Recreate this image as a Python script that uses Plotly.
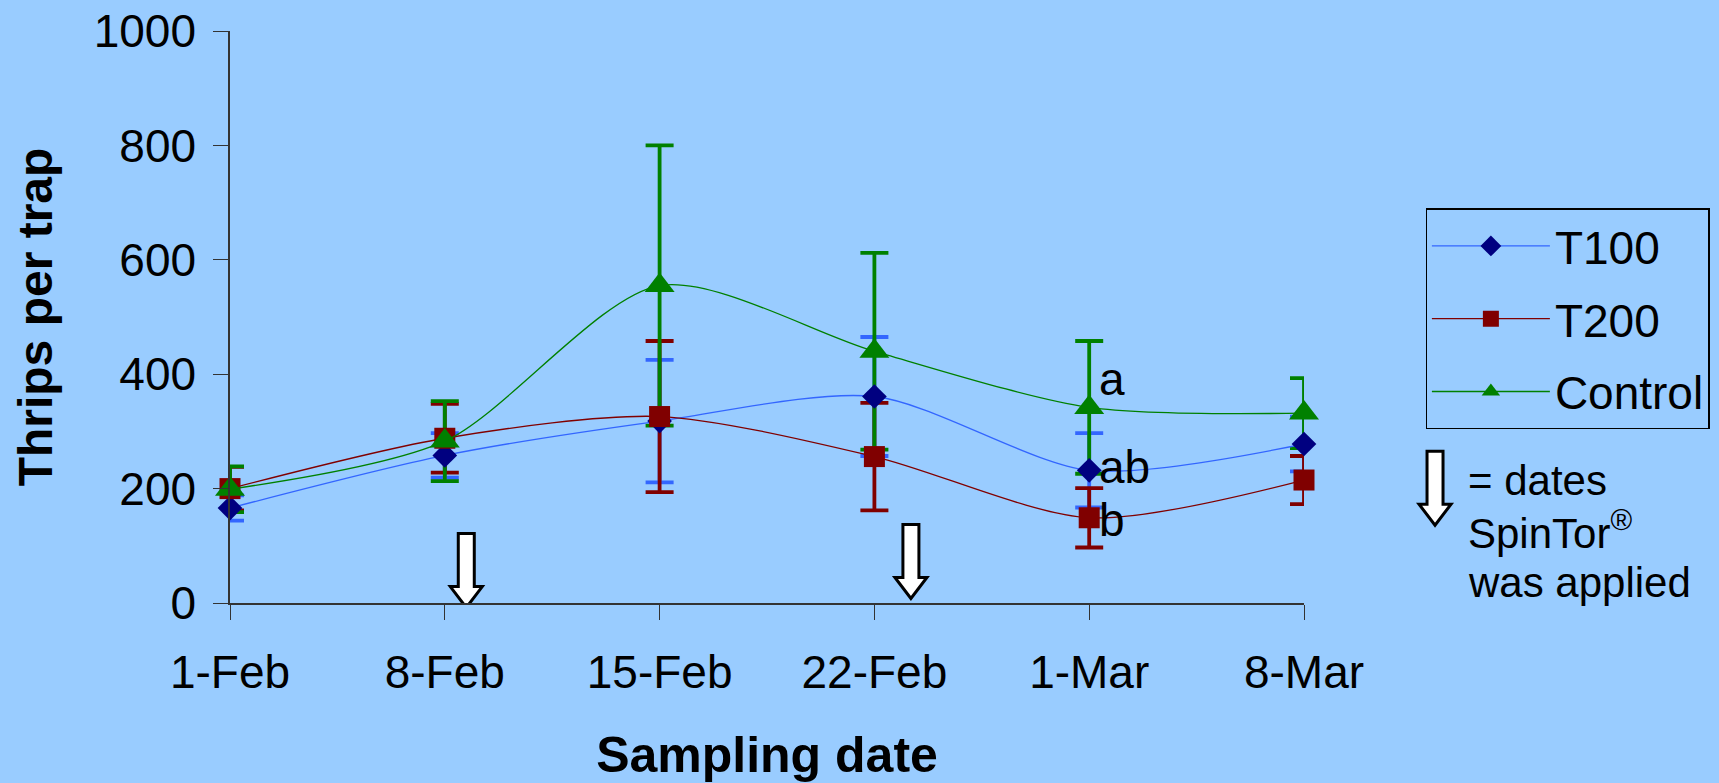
import plotly.graph_objects as go

# ---- data ----
dates = ["1-Feb", "8-Feb", "15-Feb", "22-Feb", "1-Mar", "8-Mar"]
t100 = [166, 258, 318, 361, 232, 278]
t100_err = [22, 39, 107, 104, 65, 48]
t200 = [200, 288, 326, 256, 149, 215]
t200_err = [38, 60, 132, 94, 52, 42]
control = [199, 283, 555, 440, 342, 332]
control_err = [40, 70, 245, 172, 116, 61]
series_names = ["T100", "T200", "Control"]
spray_pos = [1.1, 3.17]          # SpinTor application dates (category-index units)
spray_tip = [-8, 8]              # arrow tip heights (y units)
letters = ["a", "ab", "b"]
letter_y = [391, 238, 145]
y_ticks = [0, 200, 400, 600, 800, 1000]

FONT = "Liberation Sans, Arial, sans-serif"
BG = "#99CCFF"

series = [
    dict(name=series_names[0], y=t100, err=t100_err, line="#3366FF", marker="#000080",
         symbol="diamond", size=19, errc="#3366FF"),
    dict(name=series_names[1], y=t200, err=t200_err, line="#800000", marker="#800000",
         symbol="square", size=21, errc="#800000"),
    dict(name=series_names[2], y=control, err=control_err, line="#008000", marker="#008000",
         symbol="triangle-up", size=26, errc="#008000"),
]

fig = go.Figure()

# error bars first (drawn beneath lines and markers)
for s in series:
    fig.add_trace(go.Scatter(
        x=dates, y=s["y"], mode="markers", showlegend=False, hoverinfo="skip",
        marker=dict(size=1, opacity=0, color=s["marker"]),
        error_y=dict(type="data", array=s["err"], visible=True, color=s["errc"],
                     thickness=3.8, width=14),
        cliponaxis=False,
    ))

for s in series:
    fig.add_trace(go.Scatter(
        x=dates, y=s["y"], name=s["name"], mode="lines+markers",
        line=dict(color=s["line"], width=1.3, shape="spline", smoothing=0.8),
        marker=dict(symbol=s["symbol"], size=s["size"], color=s["marker"]),
        cliponaxis=False, legendgroup=s["name"],
    ))

# significance letters beside 1-Mar
for txt, yy in zip(letters, letter_y):
    fig.add_annotation(x=dates[4], y=yy, text=txt, showarrow=False,
                       xanchor="left", yanchor="middle", xshift=8,
                       font=dict(family=FONT, size=46, color="black"))

# SpinTor application arrows (hollow down arrows)
arrow_path = "M -8,74 L 8,74 L 8,21 L 16,21 L 0,0 L -16,21 L -8,21 Z"
for xp, yt in zip(spray_pos, spray_tip):
    fig.add_shape(type="path", xref="x", yref="y", xsizemode="pixel", ysizemode="pixel",
                  xanchor=xp, yanchor=yt, path=arrow_path,
                  fillcolor="white", line=dict(color="black", width=3), layer="above")

# legend arrow + note
fig.add_shape(type="path", xref="paper", yref="paper", xsizemode="pixel", ysizemode="pixel",
              xanchor=1.122, yanchor=0.136, path=arrow_path,
              fillcolor="white", line=dict(color="black", width=3), layer="above")
note_lines = ["= dates", "SpinTor<sup>®</sup>", "was applied"]
note_y = [0.214, 0.127, 0.036]
for t, yy in zip(note_lines, note_y):
    fig.add_annotation(xref="paper", yref="paper", x=1.151, y=yy, text=t, showarrow=False,
                       xanchor="left", yanchor="middle",
                       font=dict(family=FONT, size=42, color="black"))

axis_font = dict(family=FONT, size=46, color="black")
fig.update_layout(
    width=1719, height=783,
    paper_bgcolor=BG, plot_bgcolor=BG,
    margin=dict(l=230, r=415, t=31, b=180, autoexpand=False),
    font=dict(family=FONT, color="black"),
    xaxis=dict(type="category", range=[0, 5], showgrid=False, zeroline=False,
               showline=True, linecolor="#333333", linewidth=1.5,
               ticks="outside", ticklen=15, tickwidth=1.2, tickcolor="#333333",
               tickfont=axis_font, ticklabelstandoff=13, automargin=False,
               title=dict(text="<b>Sampling date</b>", standoff=42,
                          font=dict(family=FONT, size=50, color="black"))),
    yaxis=dict(range=[0, 1000], tickvals=y_ticks, showgrid=False, zeroline=False,
               showline=True, linecolor="#333333", linewidth=1.5,
               ticks="outside", ticklen=15, tickwidth=1.2, tickcolor="#333333",
               tickfont=axis_font, ticklabelstandoff=8, automargin=False,
               title=dict(text="<b>Thrips per trap</b>", standoff=26,
                          font=dict(family=FONT, size=48, color="black"))),
    legend=dict(x=1.1133, y=0.69, xanchor="left", yanchor="top",
                bgcolor=BG, bordercolor="black", borderwidth=1.2,
                font=dict(family=FONT, size=46, color="black"),
                traceorder="grouped", tracegroupgap=10, itemwidth=118),
    showlegend=True,
)

fig.write_html("out.html", config={"displayModeBar": False},
               post_script="document.body.style.margin='0';document.body.style.overflow='hidden';")
